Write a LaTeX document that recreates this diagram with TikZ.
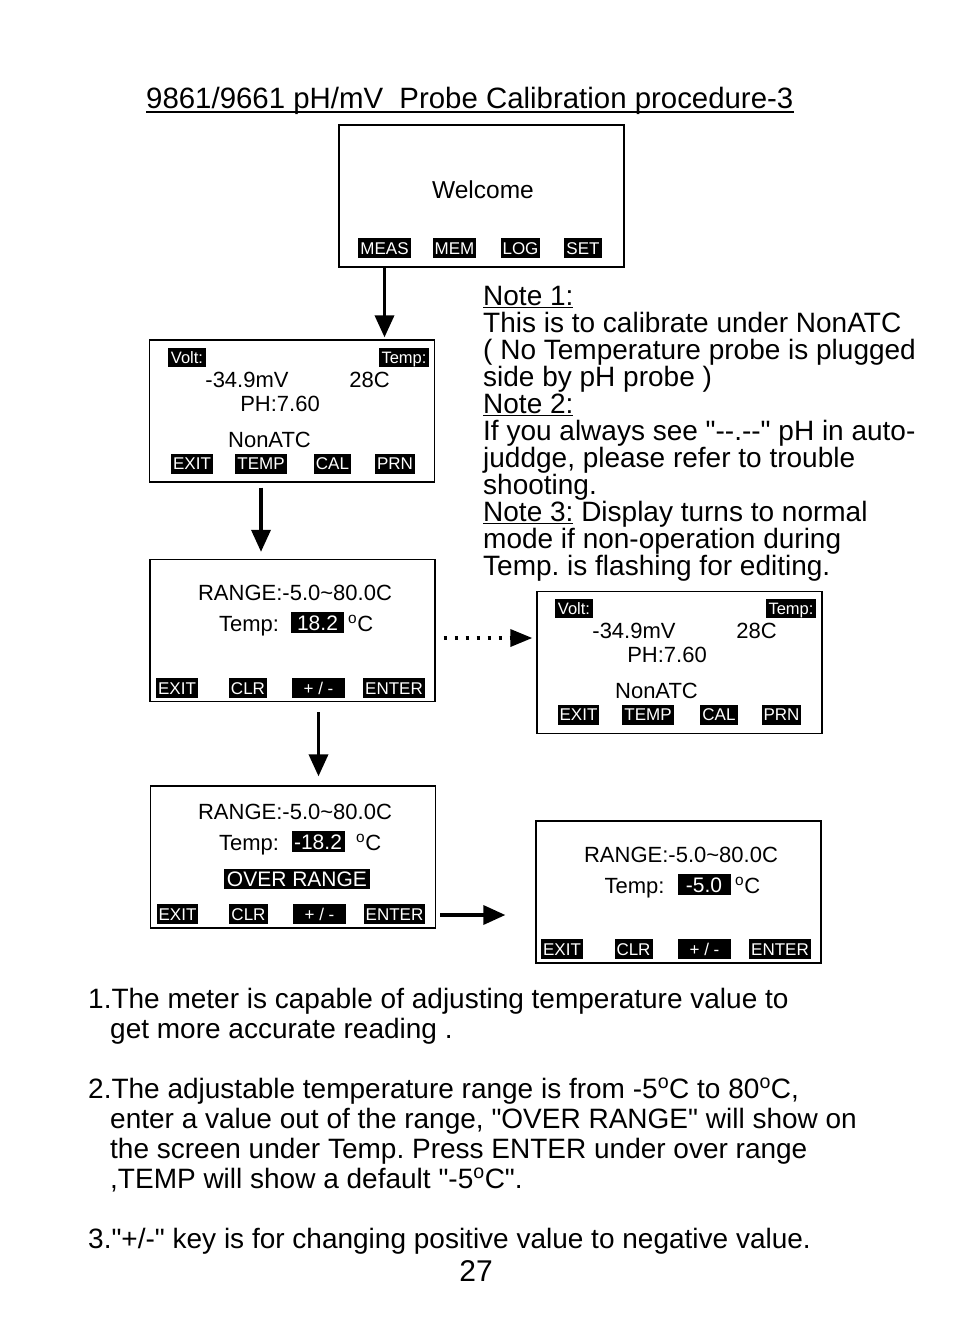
\documentclass[tikz,border=0pt]{standalone}
\usepackage{fontspec}
\setmainfont{Liberation Sans}[Ligatures=TeXOff]
\usetikzlibrary{arrows.meta,positioning,calc}
\frenchspacing

\begin{document}
\begin{tikzpicture}[x=1pt,y=-1pt,
    screen/.style={draw,line width=1.3pt,minimum width=285pt,minimum height=142pt,inner sep=0pt},
    key/.style={fill=black,text=white,inner xsep=2pt,inner ysep=4pt,text height=12pt,text depth=0pt,font=\fontsize{17}{17}\selectfont},
    tag/.style={fill=black,text=white,inner xsep=3pt,inner ysep=3.5pt,text height=12pt,text depth=0pt,font=\fontsize{16.5}{16.5}\selectfont},
    value/.style={fill=black,text=white,inner sep=0pt,minimum width=53pt,minimum height=21pt,text height=15pt,text depth=0pt,font=\fontsize{21}{21}\selectfont},
    lcd/.style={anchor=base,inner sep=0pt,font=\fontsize{22}{22}\selectfont},
    flow/.style={line width=3.5pt,-{Triangle[length=22pt,width=19pt]}},
    dotflow/.style={line width=3.5pt,dash pattern=on 3.5pt off 7.5pt,-{Triangle[length=22pt,width=17pt]}},
    note/.style={anchor=north west,inner sep=0pt,align=left,font=\fontsize{28}{27}\selectfont},
    para/.style={anchor=north west,inner sep=0pt,align=left,font=\fontsize{28}{30}\selectfont}]

  \useasboundingbox (0,0) rectangle (954,1344);

  % title
  \node[anchor=base west,inner sep=0pt,font=\fontsize{29.4}{29.4}\selectfont] (title) at (146,108)
    {9861/9661 pH/mV\ \ Probe Calibration procedure-3};
  \draw[line width=1.5pt] ($(title.base west)+(0,4)$) -- ($(title.base east)+(0,4)$);

  % screens
  \node[screen] (home) at (481.5,196) {};
  \node[screen] (meter) at (292,411) {};
  \node[screen] (tempedit) at (292.5,630.5) {};
  \node[screen] (meterback) at (679.5,662.5) {};
  \node[screen] (overrange) at (293,857) {};
  \node[screen] (defaulttemp) at (678.5,892) {};

  % welcome screen
  \node[lcd,font=\fontsize{24.5}{24.5}\selectfont] (welcome) at (483,198) {Welcome};
  \node[key] (meas) at (384.5,248) {MEAS};
  \node[key] (mem) at (454.5,248) {MEM};
  \node[key] (log) at (520.5,248) {LOG};
  \node[key] (set) at (583,248) {SET};

  % NonATC screen
  \node[tag] (volt1) at (187,357.5) {Volt:};
  \node[tag] (tempt1) at (404,357.5) {Temp:};
  \node[lcd] (mv1) at (247,387) {-34.9mV};
  \node[lcd] (deg1) at (369.5,387) {28C};
  \node[lcd] (ph1) at (280,411) {PH:7.60};
  \node[lcd] (nonatc1) at (269.5,447) {NonATC};
  \node[key] (exit1) at (192,463.5) {EXIT};
  \node[key] (temp1) at (261,463.5) {TEMP};
  \node[key] (cal1) at (332.5,463.5) {CAL};
  \node[key] (prn1) at (395,463.5) {PRN};

  % temperature entry
  \node[lcd] (range1) at (295,600) {RANGE:-5.0\textasciitilde80.0C};
  \node[lcd] (tlabel1) at (249,631) {Temp:};
  \node[value] (val1) at (317.5,622.5) {18.2};
  \node[lcd,anchor=base west] (unit1) at (348,631) {\textsuperscript{o}C};
  \node[key] (exitk1) at (177,688) {EXIT};
  \node[key] (clr1) at (248,688) {CLR};
  \node[key,minimum width=53pt] (sign1) at (318.5,688) {+ / -};
  \node[key] (enter1) at (394,688) {ENTER};

  % back to NonATC screen
  \node[tag] (volt2) at (574,608.5) {Volt:};
  \node[tag] (tempt2) at (791,608.5) {Temp:};
  \node[lcd] (mv2) at (634,638) {-34.9mV};
  \node[lcd] (deg2) at (756.5,638) {28C};
  \node[lcd] (ph2) at (667,662) {PH:7.60};
  \node[lcd] (nonatc2) at (656.5,698) {NonATC};
  \node[key] (exit2) at (578.5,714.5) {EXIT};
  \node[key] (temp2) at (648,714.5) {TEMP};
  \node[key] (cal2) at (719,714.5) {CAL};
  \node[key] (prn2) at (781.5,714.5) {PRN};

  % over range
  \node[lcd] (range2) at (295,819) {RANGE:-5.0\textasciitilde80.0C};
  \node[lcd] (tlabel2) at (249,850) {Temp:};
  \node[value] (val2) at (318,841.5) {-18.2};
  \node[lcd,anchor=base west] (unit2) at (356,850) {\textsuperscript{o}C};
  \node[value,minimum width=146pt,minimum height=20pt] (over) at (297,879) {OVER RANGE};
  \node[key] (exitk2) at (177.5,914) {EXIT};
  \node[key] (clr2) at (248.5,914) {CLR};
  \node[key,minimum width=53pt] (sign2) at (319.5,914) {+ / -};
  \node[key] (enter2) at (394.5,914) {ENTER};

  % default value
  \node[lcd] (range3) at (681,862) {RANGE:-5.0\textasciitilde80.0C};
  \node[lcd] (tlabel3) at (634.5,893) {Temp:};
  \node[value] (val3) at (704,884.5) {-5.0\hspace{9pt}};
  \node[lcd,anchor=base west] (unit3) at (735,893) {\textsuperscript{o}C};
  \node[key] (exitk3) at (562,949) {EXIT};
  \node[key] (clr3) at (633.5,949) {CLR};
  \node[key,minimum width=53pt] (sign3) at (704.5,949) {+ / -};
  \node[key] (enter3) at (780,949) {ENTER};

  % arrows
  \draw[flow] (meas |- home.south) -- ($(meas |- meter.north)+(0,-2)$);
  \draw[flow] ($(temp1 |- meter.south)+(0,5)$) -- ($(temp1 |- tempedit.north)+(0,-7)$);
  \draw[flow] ($(sign1 |- tempedit.south)+(0,10)$) -- ($(sign1 |- overrange.north)+(0,-9)$);
  \draw[dotflow] ($(tempedit.east)+(8,7.5)$) -- ($(meterback.west |- tempedit.east)+(-4,7.5)$);
  \draw[flow] ($(overrange.east |- enter2)+(4,1)$) -- ($(defaulttemp.west |- enter2)+(-30,1)$);

  % notes
  \node[note] (notes) at (483,286) {\underline{Note 1:}\\
    This is to calibrate under NonATC\\
    ( No Temperature probe is plugged\\
    side by pH probe )\\
    \underline{Note 2:}\\
    If you always see "--.--" pH in auto-\\
    juddge, please refer to trouble\\
    shooting.\\
    \underline{Note 3:} Display turns to normal\\
    mode if non-operation during\\
    Temp. is flashing for editing.};

  % explanation
  \node[para] (item1) at (88,987.5) {1.The meter is capable of adjusting temperature value to\\
    \hspace*{22pt}get more accurate reading .};
  \node[para] (item2) at (88,1077.5) {2.The adjustable temperature range is from -5\textsuperscript{o}C to 80\textsuperscript{o}C,\\
    \hspace*{22pt}enter a value out of the range, "OVER RANGE" will show on\\
    \hspace*{22pt}the screen under Temp. Press ENTER under over range\\
    \hspace*{22pt},TEMP will show a default "-5\textsuperscript{o}C".};
  \node[para] (item3) at (88,1227.5) {3."+/-" key is for changing positive value to negative value.};
  \node[anchor=base,inner sep=0pt,font=\fontsize{30}{30}\selectfont] (page) at (476,1281) {27};
\end{tikzpicture}
\end{document}
